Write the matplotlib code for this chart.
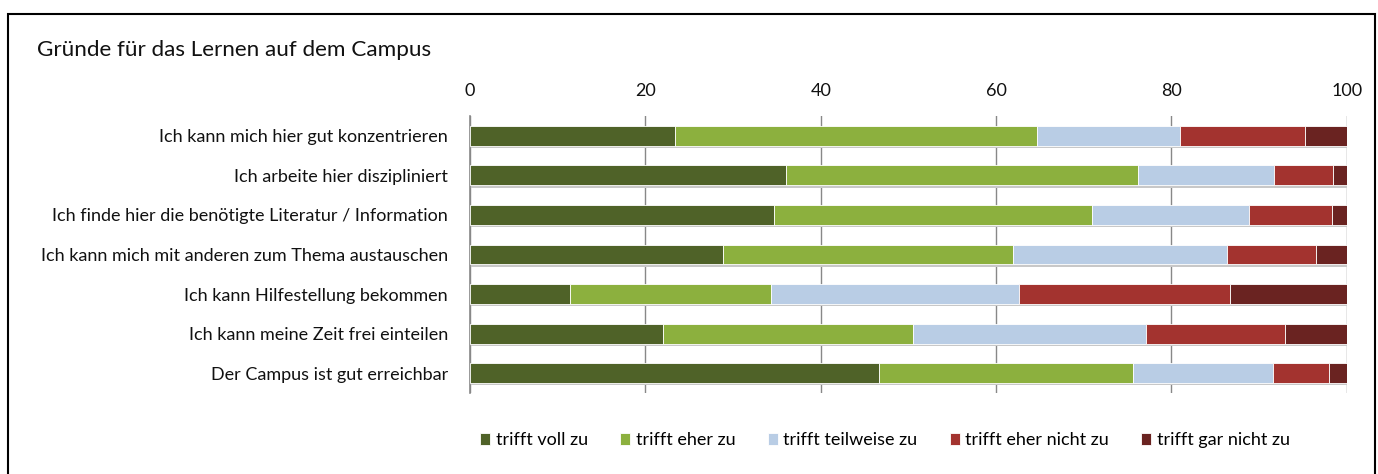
import matplotlib
matplotlib.use("Agg")
import matplotlib.pyplot as plt
import numpy as np
from matplotlib.patches import Rectangle

plt.rcParams['font.family'] = ['Lato', 'DejaVu Sans']

categories = [
    "Ich kann mich hier gut konzentrieren",
    "Ich arbeite hier diszipliniert",
    "Ich finde hier die benötigte Literatur / Information",
    "Ich kann mich mit anderen zum Thema austauschen",
    "Ich kann Hilfestellung bekommen",
    "Ich kann meine Zeit frei einteilen",
    "Der Campus ist gut erreichbar",
]
series_names = ["trifft voll zu", "trifft eher zu", "trifft teilweise zu",
                "trifft eher nicht zu", "trifft gar nicht zu"]
voll_zu = [23.4, 36.0, 34.7, 28.9, 11.4, 22.0, 46.7]
eher_zu = [41.3, 40.2, 36.3, 33.0, 22.9, 28.5, 28.9]
teilweise_zu = [16.3, 15.5, 17.9, 24.5, 28.3, 26.6, 16.0]
eher_nicht_zu = [14.2, 6.7, 9.4, 10.1, 24.1, 15.9, 6.4]
gar_nicht_zu = [4.8, 1.6, 1.7, 3.5, 13.3, 7.0, 2.0]
x_ticks = [0, 20, 40, 60, 80, 100]

colors = ["#4f6228", "#8cb03e", "#b9cde5", "#a3332f", "#6a2321"]

fig = plt.figure(figsize=(13.78, 4.74), dpi=100)
ax = fig.add_axes([0.3411, 0.1709, 0.9773 - 0.3411, 0.7553 - 0.1709])

y = np.arange(len(categories))
left = np.zeros(len(categories))
all_series = [voll_zu, eher_zu, teilweise_zu, eher_nicht_zu, gar_nicht_zu]
for name, vals, c in zip(series_names, all_series, colors):
    vals = np.array(vals)
    ax.barh(y + 0.06, vals, left=left, height=0.5, color="#c8c8c8", zorder=2,
            linewidth=0)
    ax.barh(y, vals, left=left, height=0.5, color=c, label=name, zorder=3,
            edgecolor="white", linewidth=0.6)
    left += vals

ax.set_xlim(0, 100)
ax.set_ylim(len(categories) - 0.5, -0.5)
ax.set_yticks(y)
ax.set_yticklabels(categories, fontsize=13, color="#111111")
ax.set_xticks(x_ticks)
ax.xaxis.tick_top()
ax.tick_params(axis="x", length=0, labelsize=13, pad=12, colors="#111111")
ax.tick_params(axis="y", length=0, pad=15.8)
ax.grid(axis="x", color="#888888", linewidth=1.0, zorder=0)
for s in ["top", "right", "bottom"]:
    ax.spines[s].set_visible(False)
ax.spines["left"].set_color("#888888")
ax.spines["left"].set_linewidth(1.2)
ax.set_axisbelow(True)

fig.text(37 / 1378, 1 - 50 / 474, "Gründe für das Lernen auf dem Campus",
         fontsize=16.2, va="center", ha="left", color="#111111")

handles, labels = ax.get_legend_handles_labels()
leg = fig.legend(handles, labels, loc="center", ncol=5,
                 bbox_to_anchor=(885 / 1378, 1 - 440 / 474), frameon=False,
                 fontsize=13, handlelength=0.55, handleheight=0.65,
                 handletextpad=0.3, columnspacing=1.8)

fig.patches.append(Rectangle((8 / 1378, -0.05), (1375 - 8) / 1378, 1.05 - 14 / 474,
                             transform=fig.transFigure, fill=False,
                             edgecolor="black", linewidth=1.5))

fig.savefig("out.png", dpi=100)
